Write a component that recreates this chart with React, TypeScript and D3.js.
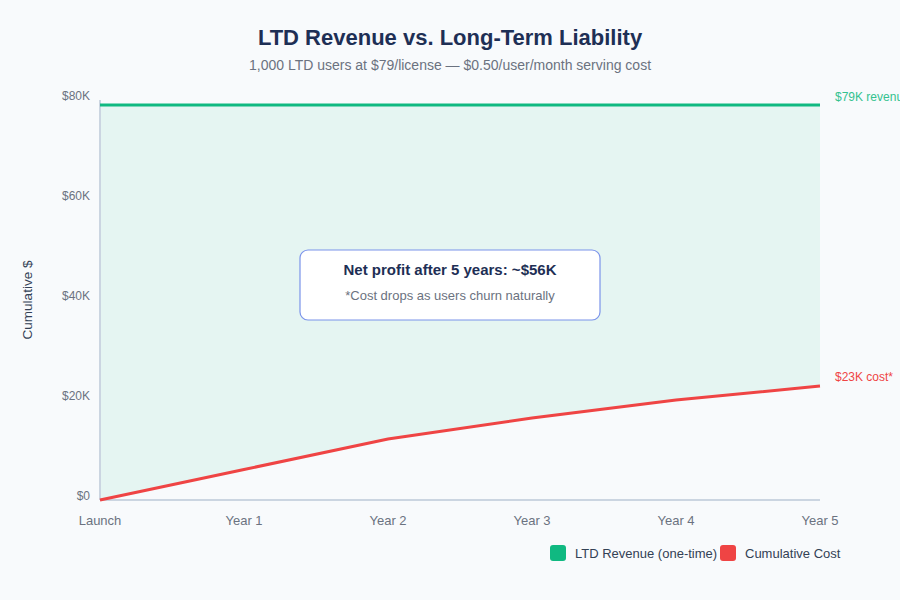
import { useEffect, useRef } from "react";
import * as d3 from "d3";

const periods = ["Launch", "Year 1", "Year 2", "Year 3", "Year 4", "Year 5"];
const revenue = [79, 79, 79, 79, 79, 79];
const cost = [0, 6.1, 12.2, 16.4, 20, 22.8];
const yTicks = [0, 20, 40, 60, 80];
const legendItems = [
  { label: "LTD Revenue (one-time)", color: "#10b981" },
  { label: "Cumulative Cost", color: "#ef4444" },
];

const FONT = "'Liberation Sans', Arial, Helvetica, sans-serif";

export default function App() {
  const ref = useRef<SVGSVGElement>(null);

  useEffect(() => {
    document.body.style.margin = "0";
    document.body.style.background = "#f8fafc";
    const svg = d3.select(ref.current);
    svg.selectAll("*").remove();

    const width = 900;
    const height = 600;
    const m = { left: 100, right: 80, top: 100, bottom: 100 };

    svg.attr("viewBox", `0 0 ${width} ${height}`).attr("width", width).attr("height", height);

    svg.append("rect").attr("width", width).attr("height", height).attr("fill", "#f8fafc");

    const x = d3.scalePoint<string>().domain(periods).range([m.left, width - m.right]);
    const y = d3.scaleLinear().domain([0, 80]).range([height - m.bottom, m.top]);

    const rows = periods.map((p, i) => ({ p, rev: revenue[i], cost: cost[i] }));

    // gap between revenue and cost
    const area = d3
      .area<any>()
      .x((d) => x(d.p)!)
      .y0((d) => y(d.cost))
      .y1((d) => y(d.rev));
    svg.append("path").datum(rows).attr("d", area).attr("fill", "#10b981").attr("fill-opacity", 0.08);

    // axes lines
    svg
      .append("line")
      .attr("x1", m.left)
      .attr("x2", m.left)
      .attr("y1", y(80))
      .attr("y2", y(0))
      .attr("stroke", "#cbd5e1")
      .attr("stroke-width", 2);
    svg
      .append("line")
      .attr("x1", m.left)
      .attr("x2", width - m.right)
      .attr("y1", y(0))
      .attr("y2", y(0))
      .attr("stroke", "#cbd5e1")
      .attr("stroke-width", 2);

    svg
      .selectAll("text.ytick")
      .data(yTicks)
      .join("text")
      .attr("class", "ytick")
      .attr("x", m.left - 10)
      .attr("y", (d) => y(d))
      .attr("text-anchor", "end")
      .attr("font-family", FONT)
      .attr("font-size", 12)
      .attr("fill", "#6b7280")
      .text((d) => `$${d === 0 ? 0 : d + "K"}`);

    svg
      .selectAll("text.xtick")
      .data(periods)
      .join("text")
      .attr("class", "xtick")
      .attr("x", (d) => x(d)!)
      .attr("y", y(0) + 25)
      .attr("text-anchor", "middle")
      .attr("font-family", FONT)
      .attr("font-size", 13)
      .attr("fill", "#6b7280")
      .text((d) => d);

    svg
      .append("text")
      .attr("transform", `translate(32,${(y(0) + y(80)) / 2}) rotate(-90)`)
      .attr("text-anchor", "middle")
      .attr("font-family", FONT)
      .attr("font-size", 13.5)
      .attr("fill", "#334155")
      .text("Cumulative $");

    const line = d3
      .line<any>()
      .x((d) => x(d.p)!);

    svg
      .append("path")
      .datum(rows)
      .attr("d", line.y((d: any) => y(d.rev)))
      .attr("fill", "none")
      .attr("stroke", "#10b981")
      .attr("stroke-width", 3);

    svg
      .append("path")
      .datum(rows)
      .attr("d", line.y((d: any) => y(d.cost)))
      .attr("fill", "none")
      .attr("stroke", "#ef4444")
      .attr("stroke-width", 3);

    const last = periods.length - 1;
    svg
      .append("text")
      .attr("x", x(periods[last])! + 15)
      .attr("y", y(revenue[last]) - 4)
      .attr("font-family", FONT)
      .attr("font-size", 12)
      .attr("fill", "#34c28f")
      .text(`$${revenue[last]}K revenue`);
    svg
      .append("text")
      .attr("x", x(periods[last])! + 15)
      .attr("y", y(cost[last]) - 5)
      .attr("font-family", FONT)
      .attr("font-size", 12)
      .attr("fill", "#ef4444")
      .text(`$${Math.round(cost[last])}K cost*`);

    // annotation box
    const bx = width / 2;
    const profit = Math.round(revenue[last] - cost[last]);
    const g = svg.append("g");
    g.append("rect")
      .attr("x", bx - 150)
      .attr("y", 250)
      .attr("width", 300)
      .attr("height", 70)
      .attr("rx", 8)
      .attr("fill", "#ffffff")
      .attr("stroke", "#7b93ea")
      .attr("stroke-width", 1.2);
    g.append("text")
      .attr("x", bx)
      .attr("y", 275)
      .attr("text-anchor", "middle")
      .attr("font-family", FONT)
      .attr("font-size", 15)
      .attr("font-weight", 700)
      .attr("fill", "#1e2f55")
      .text(`Net profit after 5 years: ~$${profit}K`);
    g.append("text")
      .attr("x", bx)
      .attr("y", 300)
      .attr("text-anchor", "middle")
      .attr("font-family", FONT)
      .attr("font-size", 13)
      .attr("fill", "#6b7280")
      .text("*Cost drops as users churn naturally");

    // title
    svg
      .append("text")
      .attr("x", width / 2)
      .attr("y", 45)
      .attr("text-anchor", "middle")
      .attr("font-family", FONT)
      .attr("font-size", 22)
      .attr("font-weight", 700)
      .attr("fill", "#1e2f55")
      .text("LTD Revenue vs. Long-Term Liability");
    svg
      .append("text")
      .attr("x", width / 2)
      .attr("y", 70)
      .attr("text-anchor", "middle")
      .attr("font-family", FONT)
      .attr("font-size", 14)
      .attr("fill", "#6b7280")
      .text("1,000 LTD users at $79/license — $0.50/user/month serving cost");

    // legend
    const legendX = [550, 720];
    const lg = svg
      .selectAll("g.legend")
      .data(legendItems)
      .join("g")
      .attr("class", "legend")
      .attr("transform", (_, i) => `translate(${legendX[i]},545)`);
    lg.append("rect")
      .attr("width", 16)
      .attr("height", 16)
      .attr("rx", 3)
      .attr("fill", (d) => d.color);
    lg.append("text")
      .attr("x", 25)
      .attr("y", 13)
      .attr("font-family", FONT)
      .attr("font-size", 13)
      .attr("fill", "#334155")
      .text((d) => d.label);
  }, []);

  return (
    <div style={{ width: 900, height: 600 }}>
      <svg ref={ref} style={{ display: "block" }} />
    </div>
  );
}
